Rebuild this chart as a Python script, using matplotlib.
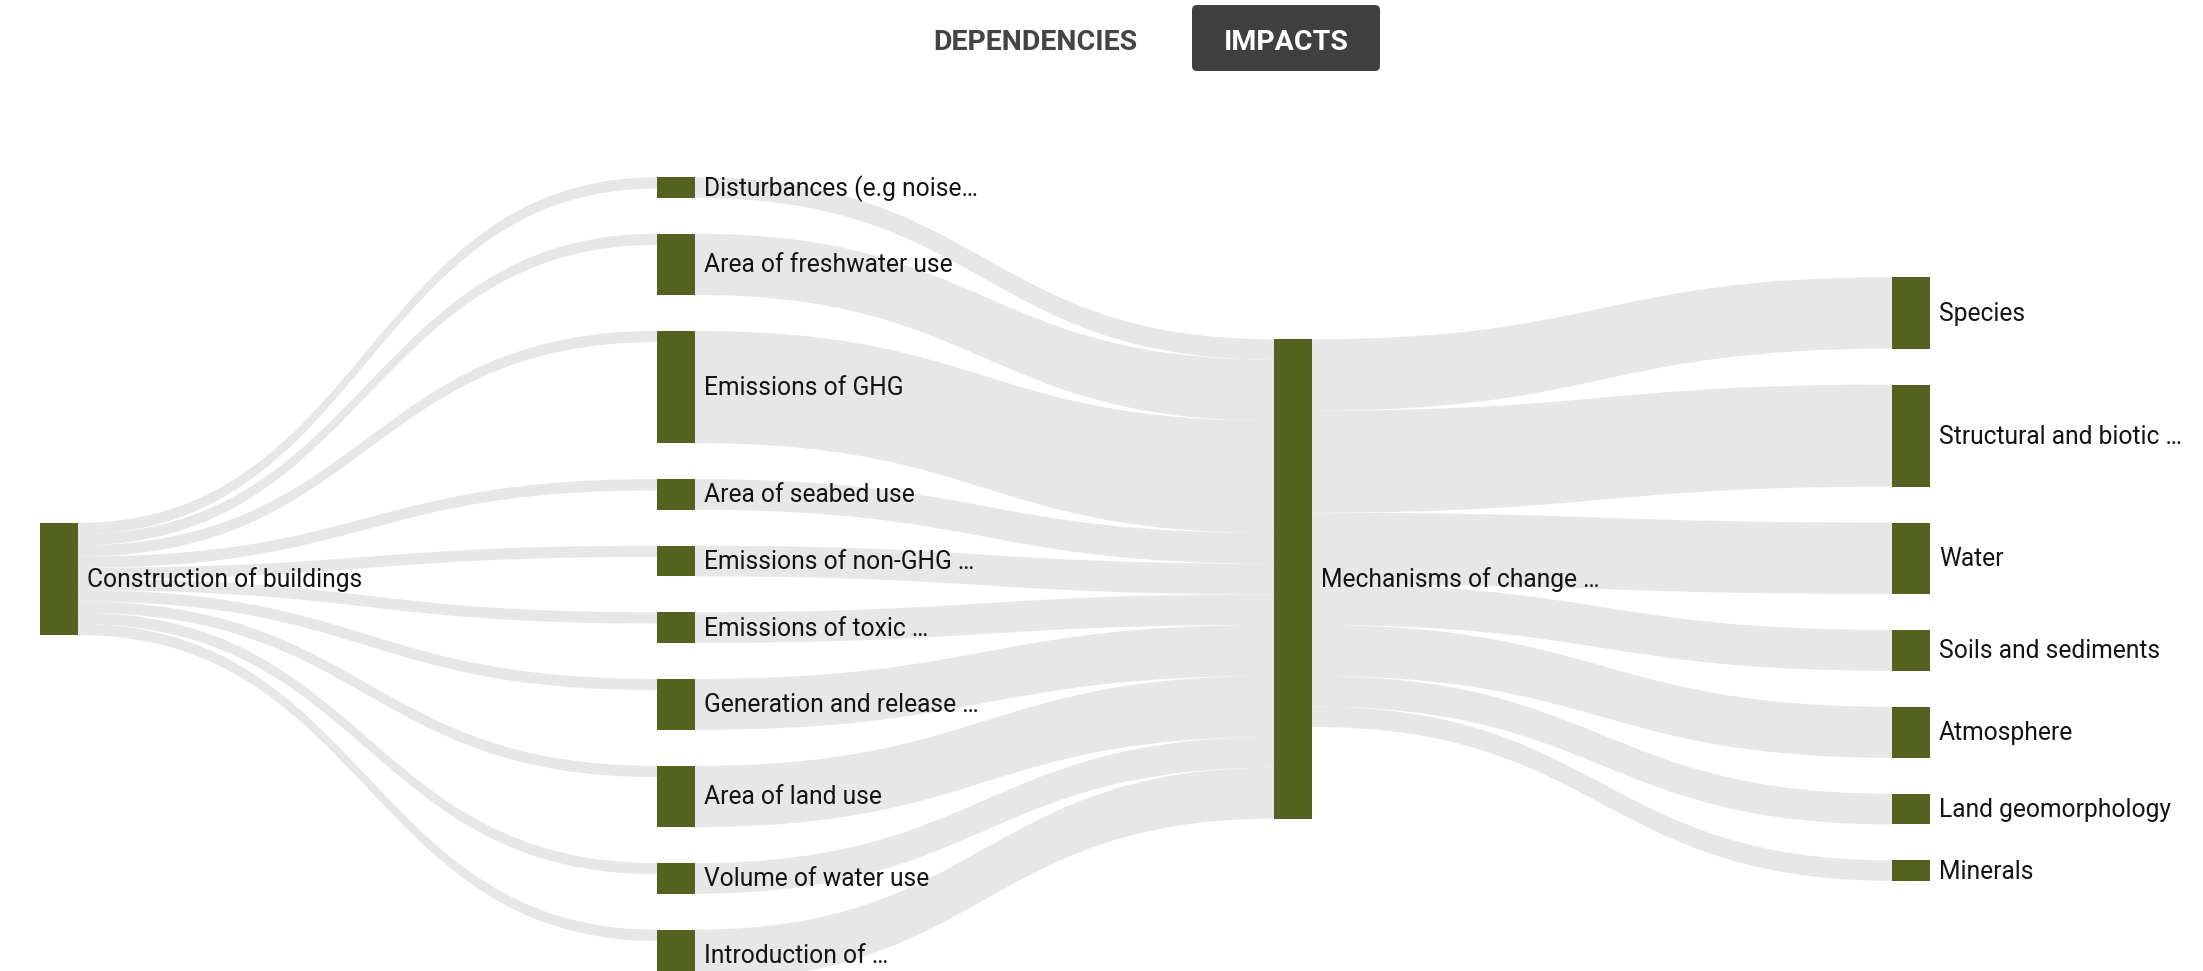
import matplotlib
matplotlib.use("Agg")
import matplotlib.pyplot as plt
from matplotlib.path import Path
from matplotlib.patches import PathPatch, Rectangle, FancyBboxPatch

plt.rcParams['font.family'] = ['Roboto', 'DejaVu Sans']

# data
activity = "Construction of buildings"
pressures = [
    "Disturbances (e.g noise…", "Area of freshwater use", "Emissions of GHG",
    "Area of seabed use", "Emissions of non-GHG …", "Emissions of toxic …",
    "Generation and release …", "Area of land use", "Volume of water use",
    "Introduction of …",
]
activity_to_pressure = [1.1, 1.1, 1.1, 1.1, 1.1, 1.1, 1.1, 1.1, 1.1, 1.1]
mechanism = "Mechanisms of change …"
pressure_to_mechanism = [2, 6, 11, 3, 3, 3, 5, 6, 3, 5]
states = ["Species", "Structural and biotic …", "Water", "Soils and sediments",
          "Atmosphere", "Land geomorphology", "Minerals"]
mechanism_to_state = [7, 10, 7, 4, 5, 3, 2]

# build links
links = []
for p, v in zip(pressures, activity_to_pressure):
    links.append((activity, p, v))
for p, v in zip(pressures, pressure_to_mechanism):
    links.append((p, mechanism, v))
for s, v in zip(states, mechanism_to_state):
    links.append((mechanism, s, v))

columns = [[activity], pressures, [mechanism], states]

# layout (pixel space)
W, H = 2203, 971
SCALE = 10.2      # px per unit
GAP = 36
CENTER = 579
NODE_W = 38
COL_X = [40, 657, 1274, 1892]
NODE_COLOR = "#55621f"
LINK_COLOR = "#e7e7e7"

inflow, outflow = {}, {}
for s, t, v in links:
    outflow[s] = outflow.get(s, 0) + v
    inflow[t] = inflow.get(t, 0) + v

node_x, node_y, node_h = {}, {}, {}
for ci, col in enumerate(columns):
    hs = [max(inflow.get(n, 0), outflow.get(n, 0)) * SCALE for n in col]
    total = sum(hs) + GAP * (len(col) - 1)
    y = CENTER - total / 2
    for n, h in zip(col, hs):
        node_x[n] = COL_X[ci]
        node_y[n] = y
        node_h[n] = h
        y += h + GAP

fig = plt.figure(figsize=(W / 100, H / 100), dpi=100)
ax = fig.add_axes([0, 0, 1, 1])
ax.set_xlim(0, W)
ax.set_ylim(H, 0)
ax.axis('off')

# links
out_off = {n: 0 for n in node_x}
in_off = {n: 0 for n in node_x}
link_geo = []
for s, t, v in sorted(links, key=lambda l: (node_x[l[0]], node_y[l[1]])):
    link_geo.append([s, t, v, node_y[s] + out_off[s], None])
    out_off[s] += v * SCALE
for lg in sorted(link_geo, key=lambda l: (node_x[l[1]], node_y[l[0]])):
    s, t, v = lg[0], lg[1], lg[2]
    lg[4] = node_y[t] + in_off[t]
    in_off[t] += v * SCALE

for s, t, v, y0, y1 in link_geo:
    w = v * SCALE
    x0 = node_x[s] + NODE_W
    x1 = node_x[t]
    xm = (x0 + x1) / 2
    verts = [(x0, y0), (xm, y0), (xm, y1), (x1, y1),
             (x1, y1 + w), (xm, y1 + w), (xm, y0 + w), (x0, y0 + w), (x0, y0)]
    codes = [Path.MOVETO, Path.CURVE4, Path.CURVE4, Path.CURVE4,
             Path.LINETO, Path.CURVE4, Path.CURVE4, Path.CURVE4, Path.CLOSEPOLY]
    ax.add_patch(PathPatch(Path(verts, codes), facecolor=LINK_COLOR,
                           edgecolor='none', zorder=1))

# nodes and labels
for n in node_x:
    ax.add_patch(Rectangle((node_x[n], node_y[n]), NODE_W, node_h[n],
                           facecolor=NODE_COLOR, edgecolor='none', zorder=2))
    ax.text(node_x[n] + NODE_W + 9, node_y[n] + node_h[n] / 2 + 1, n,
            fontsize=17.7, color='#141414', ha='left', va='center', zorder=3)

# toggle buttons
ax.text(1035, 43, "DEPENDENCIES", fontsize=20.5, fontweight='bold', color='#444444',
        ha='center', va='center')
ax.add_patch(FancyBboxPatch((1192, 5), 188, 66, boxstyle="round,pad=0,rounding_size=5",
                            facecolor='#404040', edgecolor='none', zorder=2))
ax.text(1286, 43, "IMPACTS", fontsize=20.5, fontweight='bold', color='white',
        ha='center', va='center', zorder=3)

fig.savefig("out.png", dpi=100)
